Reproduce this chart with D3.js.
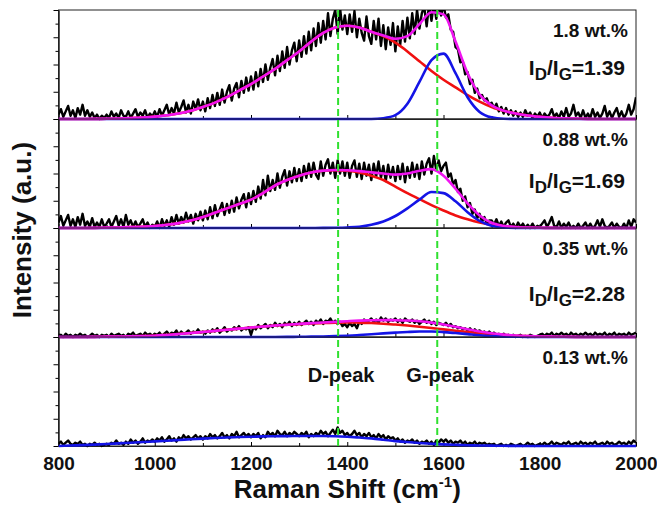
<!DOCTYPE html>
<html>
<head>
<script src="https://d3js.org/d3.v7.min.js"></script>
<style>
  body { margin: 0; background: #fff; }
  text { font-family: "Liberation Sans", Arial, sans-serif; font-weight: bold; fill: #111; }
</style>
</head>
<body>
<svg id="svg" width="657" height="507"></svg>
<script>
// Raman shift grids: measured spectra every 5 cm-1, fitted curves every 25 cm-1
const shiftSpec = d3.range(800, 2001, 5);
const shiftFit = d3.range(800, 2001, 25);

const spec18 = [
  0.04,0.09,0.02,0.07,0.12,0.03,0.08,0.01,0.1,0.04,0.13,0.03,0.08,0.02,0.06,0.01,0.04,0.0,0.03,0.01,
  0.04,0.01,0.07,0.02,0.05,0.01,0.08,0.03,0.02,0.07,0.01,0.05,0.09,0.02,0.06,0.03,0.08,0.01,0.05,0.02,
  0.07,0.02,0.09,0.03,0.08,0.13,0.04,0.1,0.05,0.15,0.06,0.11,0.17,0.06,0.13,0.05,0.16,0.09,0.18,0.08,
  0.16,0.07,0.19,0.1,0.22,0.12,0.24,0.13,0.27,0.15,0.25,0.31,0.17,0.28,0.33,0.2,0.35,0.24,0.38,0.26,
  0.39,0.27,0.43,0.3,0.46,0.34,0.5,0.36,0.47,0.55,0.4,0.58,0.44,0.62,0.47,0.66,0.5,0.63,0.7,0.53,
  0.72,0.57,0.76,0.6,0.8,0.63,0.83,0.67,0.88,0.7,0.9,0.73,0.97,0.76,0.92,1.0,0.78,1.02,0.82,0.95,
  0.78,0.96,0.8,0.99,0.75,0.92,0.79,0.72,0.94,0.76,0.69,0.9,0.73,0.92,0.67,0.86,0.64,0.84,0.68,0.88,
  0.62,0.85,0.68,0.9,0.71,0.93,0.74,0.97,0.78,1.0,0.83,0.97,1.03,0.85,1.05,0.9,1.06,0.92,1.06,0.95,
  1.05,0.93,0.96,0.82,0.8,0.66,0.64,0.52,0.53,0.41,0.43,0.32,0.36,0.24,0.28,0.19,0.22,0.17,0.19,0.13,
  0.15,0.1,0.14,0.07,0.11,0.05,0.1,0.04,0.08,0.03,0.07,0.02,0.06,0.02,0.08,0.03,0.06,0.01,0.05,0.02,
  0.06,0.01,0.05,0.02,0.04,0.09,0.02,0.05,0.01,0.07,0.02,0.1,0.02,0.05,0.13,0.03,0.06,0.01,0.08,0.01,
  0.05,0.01,0.09,0.02,0.06,0.01,0.05,0.12,0.02,0.07,0.01,0.06,0.1,0.02,0.07,0.01,0.05,0.13,0.04,0.09,
  0.2];
const spec088 = [
  0.05,0.11,0.02,0.07,0.12,0.02,0.08,0.01,0.1,0.03,0.13,0.02,0.06,0.01,0.09,0.01,0.05,0.01,0.08,0.01,
  0.04,0.08,0.01,0.06,0.11,0.02,0.08,0.01,0.12,0.03,0.07,0.01,0.06,0.01,0.04,0.08,0.01,0.05,0.0,0.03,
  0.01,0.06,0.0,0.08,0.02,0.07,0.01,0.1,0.03,0.12,0.04,0.1,0.05,0.14,0.06,0.12,0.04,0.13,0.07,0.15,
  0.07,0.16,0.08,0.19,0.09,0.21,0.11,0.17,0.23,0.12,0.22,0.14,0.25,0.15,0.28,0.18,0.26,0.31,0.19,0.32,
  0.22,0.34,0.24,0.38,0.27,0.44,0.3,0.48,0.34,0.44,0.35,0.5,0.37,0.47,0.53,0.39,0.52,0.42,0.55,0.43,
  0.54,0.43,0.57,0.46,0.59,0.47,0.6,0.49,0.45,0.61,0.48,0.58,0.63,0.5,0.6,0.46,0.62,0.5,0.61,0.48,
  0.6,0.46,0.57,0.62,0.47,0.59,0.45,0.6,0.48,0.58,0.44,0.59,0.47,0.61,0.46,0.57,0.43,0.58,0.46,0.56,
  0.43,0.57,0.45,0.59,0.42,0.56,0.46,0.6,0.47,0.58,0.45,0.61,0.49,0.59,0.64,0.5,0.66,0.53,0.62,0.52,
  0.57,0.6,0.47,0.5,0.4,0.44,0.33,0.36,0.25,0.29,0.19,0.23,0.13,0.17,0.09,0.13,0.06,0.1,0.04,0.07,
  0.07,0.03,0.08,0.02,0.06,0.01,0.05,0.07,0.01,0.04,0.0,0.05,0.01,0.04,0.0,0.03,0.0,0.04,0.0,0.02,
  0.01,0.04,0.07,0.01,0.05,0.1,0.02,0.01,0.06,0.0,0.04,0.01,0.05,0.0,0.02,0.0,0.04,0.0,0.02,0.05,
  0.0,0.04,0.0,0.02,0.07,0.01,0.08,0.02,0.0,0.02,0.05,0.0,0.04,0.01,0.0,0.04,0.0,0.07,0.01,0.08,
  0.05];
const spec035 = [
  0.01,0.02,0.0,0.03,0.01,0.02,0.0,0.02,0.01,0.03,0.01,0.02,0.0,0.01,0.03,0.01,0.02,0.0,0.02,0.01,
  0.02,0.0,0.03,0.01,0.02,0.03,0.01,0.02,0.0,0.03,0.02,0.04,0.01,0.02,0.03,0.01,0.04,0.02,0.03,0.01,
  0.03,0.02,0.04,0.01,0.03,0.05,0.02,0.04,0.03,0.06,0.02,0.05,0.03,0.04,0.06,0.03,0.05,0.04,0.07,0.04,
  0.05,0.03,0.06,0.04,0.07,0.05,0.08,0.04,0.06,0.09,0.05,0.07,0.06,0.09,0.07,0.1,0.06,0.08,0.07,0.09,
  0.02,0.09,0.07,0.11,0.08,0.1,0.12,0.08,0.11,0.09,0.13,0.1,0.12,0.09,0.13,0.11,0.14,0.1,0.13,0.11,
  0.14,0.11,0.13,0.15,0.12,0.14,0.11,0.15,0.13,0.16,0.12,0.15,0.14,0.17,0.13,0.15,0.12,0.14,0.1,0.12,
  0.09,0.13,0.1,0.12,0.08,0.14,0.12,0.16,0.13,0.15,0.17,0.14,0.16,0.13,0.18,0.15,0.17,0.14,0.16,0.15,
  0.17,0.14,0.16,0.13,0.17,0.15,0.14,0.16,0.13,0.15,0.12,0.14,0.16,0.13,0.15,0.12,0.14,0.11,0.13,0.12,
  0.11,0.13,0.1,0.12,0.09,0.1,0.08,0.09,0.07,0.08,0.06,0.08,0.05,0.07,0.05,0.06,0.04,0.05,0.03,0.05,
  0.03,0.04,0.02,0.03,0.02,0.03,0.01,0.02,0.01,0.02,0.0,0.01,0.02,0.0,0.01,0.0,0.02,0.01,0.0,0.01,
  0.02,0.03,0.01,0.03,0.02,0.04,0.01,0.03,0.02,0.04,0.02,0.03,0.01,0.04,0.02,0.03,0.01,0.03,0.02,0.04,
  0.02,0.03,0.01,0.04,0.02,0.03,0.02,0.04,0.01,0.03,0.02,0.04,0.01,0.03,0.02,0.03,0.01,0.04,0.02,0.03,
  0.04];
const spec013 = [
  0.02,0.04,0.01,0.03,0.05,0.02,0.01,0.03,0.02,0.04,0.01,0.02,0.0,0.02,0.01,0.03,0.01,0.02,0.0,0.01,
  0.02,0.01,0.03,0.02,0.05,0.02,0.03,0.01,0.04,0.02,0.06,0.03,0.05,0.02,0.04,0.07,0.03,0.05,0.04,0.06,
  0.04,0.07,0.05,0.08,0.04,0.06,0.09,0.05,0.07,0.04,0.08,0.06,0.1,0.07,0.09,0.06,0.08,0.1,0.07,0.09,
  0.06,0.09,0.07,0.11,0.08,0.1,0.07,0.09,0.12,0.08,0.1,0.07,0.11,0.09,0.13,0.08,0.1,0.12,0.09,0.11,
  0.08,0.11,0.09,0.12,0.07,0.1,0.08,0.13,0.1,0.12,0.09,0.14,0.11,0.1,0.13,0.09,0.12,0.1,0.13,0.11,
  0.09,0.12,0.1,0.13,0.08,0.11,0.09,0.12,0.1,0.14,0.11,0.13,0.09,0.12,0.15,0.11,0.17,0.12,0.14,0.1,
  0.12,0.09,0.11,0.14,0.1,0.12,0.08,0.11,0.09,0.12,0.08,0.1,0.07,0.11,0.08,0.1,0.06,0.09,0.07,0.08,
  0.05,0.07,0.04,0.06,0.03,0.05,0.04,0.06,0.03,0.05,0.02,0.04,0.03,0.05,0.02,0.04,0.01,0.05,0.03,0.06,
  0.04,0.06,0.03,0.05,0.02,0.04,0.03,0.05,0.02,0.04,0.01,0.03,0.02,0.04,0.01,0.03,0.02,0.03,0.01,0.02,
  0.01,0.02,0.0,0.01,0.02,0.0,0.01,0.0,0.02,0.01,0.0,0.01,0.02,0.0,0.01,0.03,0.01,0.02,0.0,0.01,
  0.02,0.01,0.03,0.01,0.02,0.04,0.01,0.03,0.02,0.01,0.03,0.02,0.04,0.01,0.02,0.03,0.01,0.04,0.02,0.03,
  0.01,0.03,0.02,0.04,0.01,0.02,0.03,0.01,0.04,0.02,0.03,0.01,0.02,0.04,0.02,0.03,0.01,0.04,0.02,0.05,
  0.03];

// fitted curves: D band (red), G band (blue), cumulative fit (magenta)
const dFit18 = [0,0,0,0.001,0.002,0.004,0.008,0.014,0.022,0.034,0.05,0.075,0.11,0.15,0.2,0.26,0.32,
  0.39,0.46,0.54,0.62,0.71,0.79,0.84,0.855,0.84,0.8,0.76,0.7,0.62,0.53,0.44,0.36,
  0.29,0.22,0.16,0.11,0.075,0.05,0.032,0.02,0.011,0.006,0.003,0.001,0,0,0,0];
const gFit18 = [0,0,0,0,0,0,0,0,0,0,0,0,0,0,0,0,0,0,0,0,0,0,0,0,0,0,0,
  0.007,0.035,0.14,0.34,0.54,0.6,0.42,0.2,0.065,0.015,0.002,0,0,0,0,0,0,0,0,0,0,0];
const sumFit18 = [0,0,0,0.001,0.002,0.004,0.008,0.014,0.022,0.034,0.05,0.075,0.11,0.15,0.2,0.26,0.32,
  0.39,0.46,0.54,0.62,0.71,0.79,0.84,0.855,0.84,0.8,0.767,0.735,0.76,0.87,0.98,0.96,
  0.71,0.42,0.225,0.125,0.077,0.05,0.032,0.02,0.011,0.006,0.003,0.001,0,0,0,0];

const dFit088 = [0,0,0,0.001,0.003,0.005,0.008,0.012,0.018,0.03,0.045,0.068,0.1,0.14,0.18,0.22,0.26,
  0.32,0.39,0.44,0.48,0.51,0.525,0.53,0.525,0.51,0.48,0.44,0.38,0.32,0.265,0.21,0.16,
  0.115,0.08,0.05,0.028,0.015,0.008,0.004,0.002,0.001,0,0,0,0,0,0,0];
const gFit088 = [0,0,0,0,0,0,0,0,0,0,0,0,0,0,0,0,0,0,0,0,0,0,0.001,0.002,0.005,0.012,0.03,
  0.06,0.11,0.18,0.26,0.33,0.32,0.245,0.145,0.065,0.02,0.005,0.001,0,0,0,0,0,0,0,0,0,0];
const sumFit088 = [0,0,0,0.001,0.003,0.005,0.008,0.012,0.018,0.03,0.045,0.068,0.1,0.14,0.18,0.22,0.26,
  0.32,0.39,0.44,0.48,0.51,0.526,0.532,0.53,0.522,0.51,0.5,0.49,0.5,0.525,0.54,0.48,
  0.36,0.225,0.115,0.048,0.02,0.009,0.004,0.002,0.001,0,0,0,0,0,0,0];

const dFit035 = [0,0,0,0.001,0.003,0.004,0.006,0.009,0.012,0.019,0.027,0.036,0.046,0.056,0.067,0.077,0.087,
  0.096,0.105,0.112,0.118,0.124,0.128,0.131,0.133,0.132,0.128,0.122,0.114,0.105,0.094,0.082,0.07,
  0.058,0.046,0.035,0.026,0.018,0.012,0.008,0.005,0.003,0.002,0.001,0,0,0,0,0];
const gFit035 = [0,0,0,0,0,0,0,0,0,0,0,0,0,0,0,0,0,0,0,0.001,0.002,0.003,0.005,0.008,0.012,0.018,0.025,
  0.033,0.04,0.046,0.05,0.05,0.045,0.036,0.026,0.016,0.009,0.004,0.002,0.001,0,0,0,0,0,0,0,0,0];
const sumFit035 = [0,0,0,0.001,0.003,0.004,0.006,0.009,0.012,0.019,0.027,0.036,0.046,0.056,0.067,0.077,0.087,
  0.096,0.105,0.113,0.12,0.127,0.133,0.139,0.145,0.15,0.153,0.155,0.154,0.151,0.144,0.132,0.115,
  0.094,0.072,0.051,0.035,0.022,0.014,0.009,0.005,0.003,0.002,0.001,0,0,0,0,0];

const fit013 = [0,0.004,0.008,0.013,0.018,0.024,0.03,0.036,0.042,0.048,0.055,0.062,0.068,0.073,0.078,0.082,0.085,
  0.088,0.09,0.091,0.092,0.092,0.092,0.09,0.085,0.078,0.07,0.058,0.045,0.036,0.028,0.021,0.015,
  0.011,0.007,0.005,0.003,0.002,0.001,0,0,0,0,0,0,0,0,0,0];

const wtLabels = ["1.8 wt.%", "0.88 wt.%", "0.35 wt.%", "0.13 wt.%"];
const ratioLabels = ["1.39", "1.69", "2.28", null];
const ratioBaselines = [65, 69, 73, null];
const peakNames = ["D-peak", "G-peak"];
const peakPositions = [1381, 1587];
const xTicksMajor = [800, 1000, 1200, 1400, 1600, 1800, 2000];
const xTicksMinor = [900, 1100, 1300, 1500, 1700, 1900];

const panels = [
  { spec: spec18, d: dFit18, g: gFit18, sum: sumFit18 },
  { spec: spec088, d: dFit088, g: gFit088, sum: sumFit088 },
  { spec: spec035, d: dFit035, g: gFit035, sum: sumFit035 },
  { spec: spec013, d: null, g: fit013, sum: null }
];

const svg = d3.select("#svg");
const plotLeft = 58.5, plotRight = 636, plotTop = 10, panelH = 109;
const plotBottom = plotTop + 4 * panelH;

const x = d3.scaleLinear().domain([800, 2000]).range([plotLeft, plotRight]);

const RED = "#f01010", BLUE = "#1414e6", MAG = "#f014f0", GREEN = "#2fe02f";

panels.forEach((p, i) => {
  const pTop = plotTop + i * panelH;
  const y = d3.scaleLinear().domain([0, 1]).range([pTop + panelH, pTop]);
  const g = svg.append("g").attr("class", "panel");

  // frame
  g.append("rect").attr("x", plotLeft).attr("y", pTop)
    .attr("width", plotRight - plotLeft).attr("height", panelH)
    .attr("fill", "none").attr("stroke", "#222").attr("stroke-width", 1);

  // x ticks (inward), labels only on the last panel
  const xa = g.append("g").attr("transform", `translate(0,${pTop + panelH})`)
    .call(d3.axisBottom(x).tickValues(xTicksMajor).tickSizeInner(-4).tickSizeOuter(0)
      .tickFormat(i === 3 ? d3.format("d") : ""));
  xa.append("g").call(d3.axisBottom(x).tickValues(xTicksMinor).tickSizeInner(-3).tickSizeOuter(0).tickFormat(""));
  xa.selectAll("path").attr("stroke", "#222");
  xa.selectAll("text").attr("font-size", 19).attr("fill", "#111")
    .attr("dy", null).attr("y", 24);
  xa.attr("font-family", null);

  // y ticks (outward), no labels
  const ya = g.append("g").attr("transform", `translate(${plotLeft},0)`)
    .call(d3.axisLeft(y).tickValues([0, 0.25, 0.5, 0.75, 1]).tickSizeInner(5).tickSizeOuter(0).tickFormat(""));
  ya.append("g").call(d3.axisLeft(y).tickValues([0.125, 0.375, 0.625, 0.875]).tickSizeInner(3).tickSizeOuter(0).tickFormat(""));
  ya.selectAll("path").attr("stroke", "#222");

  // data
  const clipId = "clip" + i;
  svg.append("clipPath").attr("id", clipId).append("rect")
    .attr("x", plotLeft).attr("y", pTop).attr("width", plotRight - plotLeft).attr("height", panelH + 2);
  const area = svg.append("g").attr("clip-path", `url(#${clipId})`);

  const specLine = d3.line().x((d, k) => x(shiftSpec[k])).y(d => y(d));
  const fitLine = d3.line().x((d, k) => x(shiftFit[k])).y(d => y(d)).curve(d3.curveMonotoneX);

  area.append("path").attr("d", specLine(p.spec))
    .attr("fill", "none").attr("stroke", "#000").attr("stroke-width", 2.4).attr("stroke-linejoin", "round");
  if (p.d) area.append("path").attr("d", fitLine(p.d))
    .attr("fill", "none").attr("stroke", RED).attr("stroke-width", 2.6);
  area.append("path").attr("d", fitLine(p.g))
    .attr("fill", "none").attr("stroke", BLUE).attr("stroke-width", 2.6);
  if (p.sum) area.append("path").attr("d", fitLine(p.sum))
    .attr("fill", "none").attr("stroke", MAG).attr("stroke-width", 2.6);

  // labels
  svg.append("text").attr("x", 628).attr("y", pTop + 27).attr("text-anchor", "end")
    .attr("font-size", 19).text(wtLabels[i]);
  if (ratioLabels[i]) {
    const t = svg.append("text").attr("x", 625).attr("y", pTop + ratioBaselines[i])
      .attr("text-anchor", "end").attr("font-size", 21);
    t.append("tspan").text("I");
    t.append("tspan").attr("dy", 5).attr("font-size", 17).text("D");
    t.append("tspan").attr("dy", -5).text("/I");
    t.append("tspan").attr("dy", 5).attr("font-size", 17).text("G");
    t.append("tspan").attr("dy", -5).text("=" + ratioLabels[i]);
  }
});

// dashed peak markers
svg.selectAll("line.peak").data(peakPositions).join("line")
  .attr("class", "peak")
  .attr("x1", d => x(d)).attr("x2", d => x(d))
  .attr("y1", plotTop).attr("y2", plotBottom)
  .attr("stroke", GREEN).attr("stroke-width", 2).attr("stroke-dasharray", "7,4");

svg.selectAll("text.peakname").data(peakNames).join("text")
  .attr("class", "peakname")
  .attr("x", (d, k) => x(peakPositions[k]) + 3).attr("y", 382)
  .attr("text-anchor", "middle").attr("font-size", 20)
  .style("font-weight", "600")
  .text(d => d);

// axis titles
const xt = svg.append("text").attr("x", (plotLeft + plotRight) / 2).attr("y", 498)
  .attr("text-anchor", "middle").attr("font-size", 26);
xt.append("tspan").text("Raman Shift (cm");
xt.append("tspan").attr("dy", -11).attr("font-size", 15).text("-1");
xt.append("tspan").attr("dy", 11).text(")");

svg.append("text").attr("transform", "translate(31,230) rotate(-90)")
  .attr("text-anchor", "middle").attr("font-size", 26).text("Intensity (a.u.)");
</script>
</body>
</html>
